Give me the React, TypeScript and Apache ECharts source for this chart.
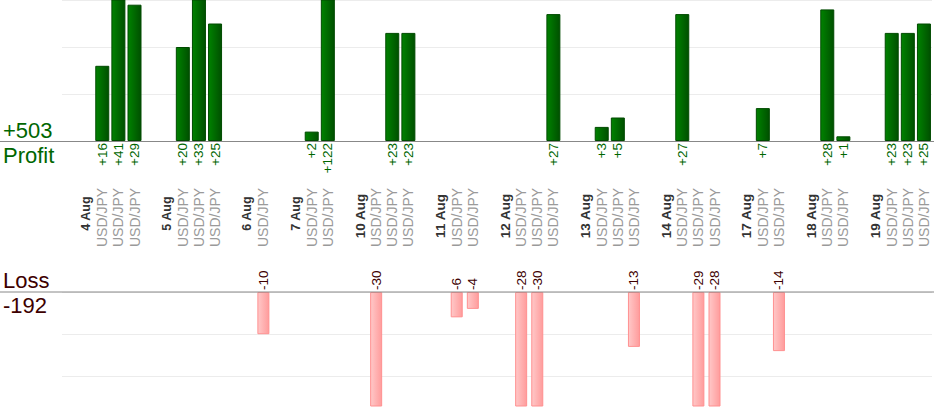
import React, { useEffect, useRef } from "react";
import * as echarts from "echarts";

const days = ["4 Aug", "5 Aug", "6 Aug", "7 Aug", "10 Aug", "11 Aug", "12 Aug", "13 Aug", "14 Aug", "17 Aug", "18 Aug", "19 Aug"];
const pairs = [
  ["USD/JPY", "USD/JPY", "USD/JPY"],
  ["USD/JPY", "USD/JPY", "USD/JPY"],
  ["USD/JPY"],
  ["USD/JPY", "USD/JPY"],
  ["USD/JPY", "USD/JPY", "USD/JPY"],
  ["USD/JPY", "USD/JPY"],
  ["USD/JPY", "USD/JPY", "USD/JPY"],
  ["USD/JPY", "USD/JPY", "USD/JPY"],
  ["USD/JPY", "USD/JPY", "USD/JPY"],
  ["USD/JPY", "USD/JPY"],
  ["USD/JPY", "USD/JPY"],
  ["USD/JPY", "USD/JPY", "USD/JPY"],
];
const results = [
  [16, 41, 29],
  [20, 33, 25],
  [-10],
  [2, 122],
  [-30, 23, 23],
  [-6, -4],
  [-28, -30, 27],
  [3, 5, -13],
  [27, -29, -28],
  [7, -14],
  [28, 1],
  [23, 23, 25],
];
const profitTicks = [0, 10, 20, 30];
const lossTicks = [0, 10, 20];

type Slot = { kind: "gap" | "date" | "trade"; text?: string; value?: number };

const FONT = "'Liberation Sans', Arial, sans-serif";
const GREEN = "#006600";
const MAROON = "#3d0000";

export default function App() {
  const ref = useRef<HTMLDivElement>(null);

  useEffect(() => {
    document.body.style.margin = "0";
    if (!ref.current) return;
    const chart = echarts.init(ref.current, undefined, { renderer: "svg" });

    const slots: Slot[] = [];
    days.forEach((d, i) => {
      slots.push({ kind: "gap" });
      slots.push({ kind: "date", text: d });
      results[i].forEach((v, j) => slots.push({ kind: "trade", text: pairs[i][j], value: v }));
    });
    const cats = slots.map((_, i) => String(i));
    const profitData = slots.map((s) => (s.kind === "trade" && (s.value as number) > 0 ? s.value : null));
    const lossData = slots.map((s) => (s.kind === "trade" && (s.value as number) < 0 ? -(s.value as number) : null));
    const flat = results.flat();
    const totalProfit = flat.filter((v) => v > 0).reduce((a, b) => a + b, 0);
    const totalLoss = flat.filter((v) => v < 0).reduce((a, b) => a + b, 0);

    const GL = 62;
    const GR = 2;
    const topH = 141;
    const lossTop = 292;
    const lossH = 114;

    const baseX = {
      type: "category",
      data: cats,
      boundaryGap: true,
      axisLine: { show: false },
      axisTick: { show: false },
      splitLine: { show: false },
    };

    const dateAxis = (short: boolean, fontSize: number, margin: number) => ({
      ...baseX,
      gridIndex: 0,
      position: "bottom",
      axisLabel: {
        interval: 0,
        rotate: 90,
        align: "center",
        verticalAlign: "middle",
        margin,
        color: "#333333",
        fontWeight: "bold",
        fontSize,
        fontFamily: FONT,
        formatter: (_v: string, i: number) => {
          const s = slots[i];
          if (!s || s.kind !== "date") return "";
          const isShort = (s.text as string).length <= 5;
          return isShort === short ? (s.text as string) : "";
        },
      },
    });

    const option: any = {
      animation: false,
      grid: [
        { left: GL, right: GR, top: 0, height: topH, outerBoundsMode: "none", containLabel: false },
        { left: GL, right: GR, top: lossTop, height: lossH, outerBoundsMode: "none", containLabel: false },
      ],
      xAxis: [
        {
          ...baseX,
          gridIndex: 0,
          position: "bottom",
          axisLabel: {
            interval: 0,
            rotate: 90,
            align: "right",
            verticalAlign: "middle",
            margin: 2,
            color: GREEN,
            fontSize: 13.5,
            fontFamily: FONT,
            formatter: (_v: string, i: number) => {
              const s = slots[i];
              return s && s.kind === "trade" && (s.value as number) > 0 ? "+" + s.value : "";
            },
          },
        },
        dateAxis(true, 12.5, 72.5),
        dateAxis(false, 13.5, 75),
        {
          ...baseX,
          gridIndex: 0,
          position: "bottom",
          axisLabel: {
            interval: 0,
            rotate: 90,
            align: "center",
            verticalAlign: "middle",
            margin: 76.5,
            color: "#9a9a9a",
            fontSize: 14,
            fontFamily: FONT,
            formatter: (_v: string, i: number) => {
              const s = slots[i];
              return s && s.kind === "trade" ? (s.text as string) : "";
            },
          },
        },
        {
          ...baseX,
          gridIndex: 1,
          position: "top",
          axisLabel: {
            interval: 0,
            rotate: 90,
            align: "left",
            verticalAlign: "middle",
            margin: 2,
            color: MAROON,
            fontSize: 13.5,
            fontFamily: FONT,
            formatter: (_v: string, i: number) => {
              const s = slots[i];
              return s && s.kind === "trade" && (s.value as number) < 0 ? String(s.value) : "";
            },
          },
        },
      ],
      yAxis: [
        {
          type: "value",
          gridIndex: 0,
          min: profitTicks[0],
          max: profitTicks[profitTicks.length - 1],
          interval: profitTicks[1] - profitTicks[0],
          axisLine: { show: false },
          axisTick: { show: false },
          axisLabel: { show: false },
          splitLine: { show: true, lineStyle: { color: "#ececec", width: 1 } },
        },
        {
          type: "value",
          gridIndex: 1,
          inverse: true,
          min: lossTicks[0],
          max: 27,
          interval: lossTicks[1] - lossTicks[0],
          axisLine: { show: false },
          axisTick: { show: false },
          axisLabel: { show: false },
          splitLine: { show: true, showMaxLine: false, lineStyle: { color: "#ececec", width: 1 } },
        },
      ],
      series: [
        {
          type: "bar",
          xAxisIndex: 0,
          yAxisIndex: 0,
          data: profitData,
          barWidth: 14,
          clip: true,
          itemStyle: {
            color: new echarts.graphic.LinearGradient(0, 0, 1, 0, [
              { offset: 0, color: "#008200" },
              { offset: 1, color: "#005000" },
            ]),
            borderColor: "#004a00",
            borderWidth: 1,
          },
        },
        {
          type: "bar",
          xAxisIndex: 4,
          yAxisIndex: 1,
          data: lossData,
          barWidth: 12,
          clip: true,
          itemStyle: {
            color: new echarts.graphic.LinearGradient(0, 0, 1, 0, [
              { offset: 0, color: "#ffc8c8" },
              { offset: 1, color: "#ff9c9c" },
            ]),
            borderColor: "#ff9090",
            borderWidth: 1,
          },
        },
      ],
      graphic: [
        {
          type: "line",
          z: 100,
          shape: { x1: 0, y1: topH + 0.5, x2: 934, y2: topH + 0.5 },
          style: { stroke: "#888888", lineWidth: 1 },
        },
        {
          type: "line",
          z: 100,
          shape: { x1: 0, y1: lossTop, x2: 934, y2: lossTop },
          style: { stroke: "#888888", lineWidth: 1 },
        },
        {
          type: "text",
          x: 3,
          y: 130,
          z: 100,
          style: { text: "+" + totalProfit, fontSize: 22, fontFamily: FONT, fill: GREEN, verticalAlign: "middle" },
        },
        {
          type: "text",
          x: 3,
          y: 155,
          z: 100,
          style: { text: "Profit", fontSize: 22, fontFamily: FONT, fill: GREEN, verticalAlign: "middle" },
        },
        {
          type: "text",
          x: 3,
          y: 280.5,
          z: 100,
          style: { text: "Loss", fontSize: 22, fontFamily: FONT, fill: MAROON, verticalAlign: "middle" },
        },
        {
          type: "text",
          x: 3,
          y: 305,
          z: 100,
          style: { text: String(totalLoss), fontSize: 22, fontFamily: FONT, fill: MAROON, verticalAlign: "middle" },
        },
      ],
    };

    chart.setOption(option);
    return () => chart.dispose();
  }, []);

  return <div ref={ref} style={{ width: 934, height: 420 }} />;
}
